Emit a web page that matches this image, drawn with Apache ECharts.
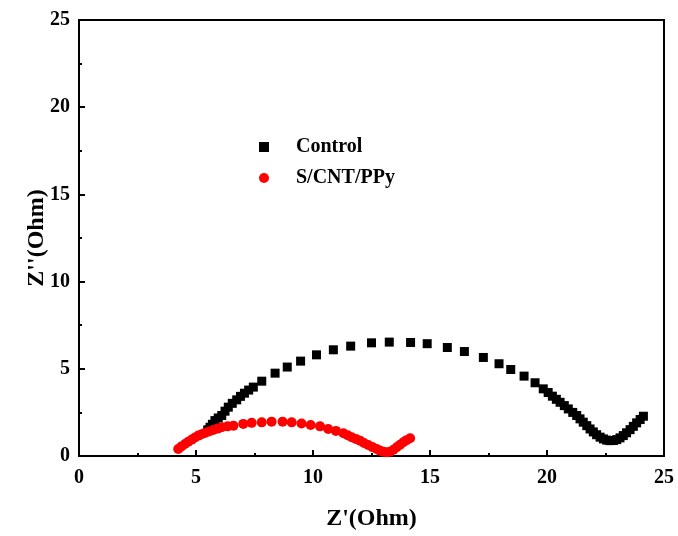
<!DOCTYPE html>
<html><head><meta charset="utf-8">
<script src="https://cdn.jsdelivr.net/npm/echarts@6/dist/echarts.min.js"></script>
<style>html,body{margin:0;padding:0;background:#fff}#c{width:678px;height:536px}</style>
</head><body><div id="c"></div>
<script>
const controlX = [5.50,5.60,5.70,5.81,5.95,6.10,6.24,6.38,6.55,6.74,6.90,7.07,7.25,7.45,7.81,8.38,8.90,9.47,10.15,10.87,11.61,12.50,13.26,14.17,14.88,15.74,16.47,17.28,17.95,18.45,19.02,19.49,19.84,20.05,20.23,20.40,20.56,20.74,20.91,21.10,21.27,21.41,21.55,21.70,21.84,21.98,22.12,22.27,22.41,22.55,22.69,22.84,22.98,23.12,23.26,23.40,23.55,23.69,23.83,23.98,24.12];
const controlY = [1.50,1.65,1.82,2.03,2.18,2.32,2.57,2.80,3.02,3.22,3.42,3.60,3.78,3.95,4.29,4.75,5.10,5.44,5.80,6.09,6.30,6.49,6.53,6.51,6.44,6.22,5.99,5.65,5.29,4.96,4.58,4.20,3.85,3.64,3.43,3.25,3.08,2.89,2.70,2.50,2.32,2.13,1.94,1.74,1.55,1.38,1.22,1.08,0.98,0.91,0.88,0.89,0.94,1.04,1.17,1.33,1.51,1.70,1.90,2.09,2.28];
const pcX = [4.24,4.38,4.53,4.67,4.82,4.96,5.10,5.24,5.38,5.56,5.74,5.92,6.10,6.35,6.60,7.02,7.38,7.81,8.23,8.70,9.09,9.51,9.90,10.30,10.65,10.98,11.30,11.48,11.65,11.83,12.01,12.18,12.36,12.54,12.72,12.86,13.01,13.15,13.29,13.44,13.58,13.72,13.86,14.00,14.15];
const pcY = [0.40,0.55,0.69,0.82,0.94,1.06,1.17,1.25,1.32,1.41,1.49,1.57,1.65,1.70,1.74,1.84,1.90,1.93,1.97,1.97,1.93,1.86,1.78,1.70,1.55,1.44,1.30,1.19,1.07,0.98,0.88,0.75,0.63,0.51,0.40,0.31,0.24,0.21,0.24,0.36,0.50,0.65,0.79,0.91,1.02];
const seriesNames = ['Control','S/CNT/PPy'];
const axisMin = 0, axisMax = 25, axisStep = 5;
const xTitle = "Z'(Ohm)", yTitle = "Z''(Ohm)";

const font = '"Liberation Serif","Times New Roman",serif';
const zip = (a,b)=>a.map((v,i)=>[v,b[i]]);
const axisCommon = {
  min: axisMin, max: axisMax, interval: axisStep,
  nameMoveOverlap: false,
  axisLine:{show:true,lineStyle:{color:'#000',width:2}},
  axisTick:{inside:true,length:6,lineStyle:{color:'#000',width:2}},
  minorTick:{show:true,splitNumber:2,length:3,lineStyle:{color:'#000',width:2}},
  splitLine:{show:false},
  axisLabel:{color:'#000',fontFamily:font,fontWeight:'bold',fontSize:20},
  nameTextStyle:{color:'#000',fontFamily:font,fontWeight:'bold',fontSize:24}
};
const chart = echarts.init(document.getElementById('c'));
chart.setOption({
  backgroundColor:'#fff',
  animation:false,
  grid:{left:79,right:14,top:20,bottom:80,show:true,borderColor:'#000',borderWidth:2,containLabel:false},
  xAxis:Object.assign({},axisCommon,{type:'value',name:xTitle,nameLocation:'middle',nameGap:51,
    axisLabel:Object.assign({},axisCommon.axisLabel,{margin:12})}),
  yAxis:Object.assign({},axisCommon,{type:'value',name:yTitle,nameLocation:'middle',nameGap:30,
    axisLabel:Object.assign({},axisCommon.axisLabel,{margin:9})}),
  legend:{orient:'vertical',left:254,top:132,itemGap:11,itemWidth:10,itemHeight:10,
    textStyle:{color:'#000',fontFamily:font,fontWeight:'bold',fontSize:20,padding:[0,0,0,22]},
    data:[{name:seriesNames[0],icon:'rect'},{name:seriesNames[1],icon:'circle'}]},
  series:[
    {name:seriesNames[0],type:'scatter',symbol:'rect',symbolSize:9,itemStyle:{color:'#000',opacity:1},data:zip(controlX,controlY)},
    {name:seriesNames[1],type:'scatter',symbol:'circle',symbolSize:10,itemStyle:{color:'#ff0000',opacity:1},data:zip(pcX,pcY)}
  ]
});
</script></body></html>
